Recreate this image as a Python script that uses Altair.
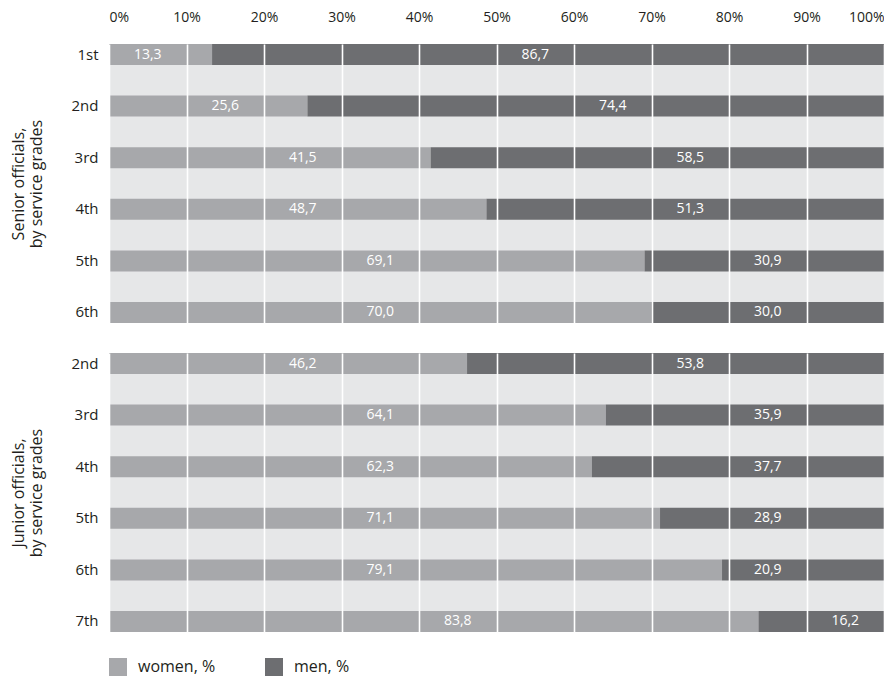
import altair as alt
import pandas as pd

# ---- data ----
grades_senior = ["1st", "2nd", "3rd", "4th", "5th", "6th"]
women_senior = [13.3, 25.6, 41.5, 48.7, 69.1, 70.0]
men_senior = [86.7, 74.4, 58.5, 51.3, 30.9, 30.0]

grades_junior = ["2nd", "3rd", "4th", "5th", "6th", "7th"]
women_junior = [46.2, 64.1, 62.3, 71.1, 79.1, 83.8]
men_junior = [53.8, 35.9, 37.7, 28.9, 20.9, 16.2]

tick_values = [0, 10, 20, 30, 40, 50, 60, 70, 80, 90, 100]
series_names = ["women, %", "men, %"]
series_colors = ["#a7a8ab", "#6d6e71"]

title_senior = ["Senior officials,", "by service grades"]
title_junior = ["Junior officials,", "by service grades"]

FONT = "Open Sans"
BG = "#e6e7e8"
TXT = "#231f20"


def build(grades, women, men):
    rows = []
    for g, w, m in zip(grades, women, men):
        for name, start, val in ((series_names[0], 0.0, w), (series_names[1], w, m)):
            rows.append(dict(grade=g, series=name, start=start, end=start + val,
                             label=f"{val:.1f}".replace(".", ",")))
    return pd.DataFrame(rows)


def panel(grades, women, men, title, top):
    df = build(grades, women, men)
    if top:
        xaxis = alt.Axis(orient="top", values=tick_values, labelExpr="datum.value + '%'",
                         grid=True, gridColor="white", gridWidth=1.6, zindex=1,
                         domain=False, ticks=False, labelFlush=True, labelPadding=20,
                         labelFontSize=14, labelColor=TXT, title=None)
    else:
        xaxis = alt.Axis(values=tick_values, labels=False, grid=True, gridColor="white",
                         gridWidth=1.6, zindex=1, domain=False, ticks=False, title=None)
    x = alt.X("start:Q", scale=alt.Scale(domain=[0, 100], nice=False, zero=True), axis=xaxis)
    y = alt.Y("grade:N", sort=grades,
              scale=alt.Scale(paddingInner=0.593, paddingOuter=0),
              axis=alt.Axis(title=title, titleFontSize=16, titleFontWeight="normal",
                            titleColor=TXT, titlePadding=27, labelFontSize=15,
                            labelColor=TXT, labelPadding=11, ticks=False, domain=False))
    color = alt.Color("series:N", scale=alt.Scale(domain=series_names, range=series_colors),
                      legend=alt.Legend(title=None))
    bars = alt.Chart(df).mark_bar().encode(x=x, x2="end:Q", y=y, color=color)
    text = alt.Chart(df).transform_calculate(
        pos="floor(((datum.start + datum.end) / 2) / 10) * 10 + 5"
    ).mark_text(color="white", fontSize=14, font=FONT, baseline="middle").encode(
        x=alt.X("pos:Q"), y=alt.Y("grade:N", sort=grades), text="label:N"
    )
    return alt.layer(bars, text).properties(width=775, height=279)


chart = alt.vconcat(
    panel(grades_senior, women_senior, men_senior, title_senior, True),
    panel(grades_junior, women_junior, men_junior, title_junior, False),
    spacing=30,
).configure(font=FONT).configure_view(
    fill=BG, strokeWidth=0
).configure_legend(
    orient="bottom", direction="horizontal", symbolType="square", symbolSize=324,
    symbolStrokeWidth=0, labelFontSize=16, labelColor=TXT, labelOffset=11,
    columnPadding=49, offset=26, padding=0
).properties(padding={"left": 2, "top": 2, "right": 0, "bottom": 0})

chart.save("out.html", embed_options={"renderer": "svg", "actions": False})
